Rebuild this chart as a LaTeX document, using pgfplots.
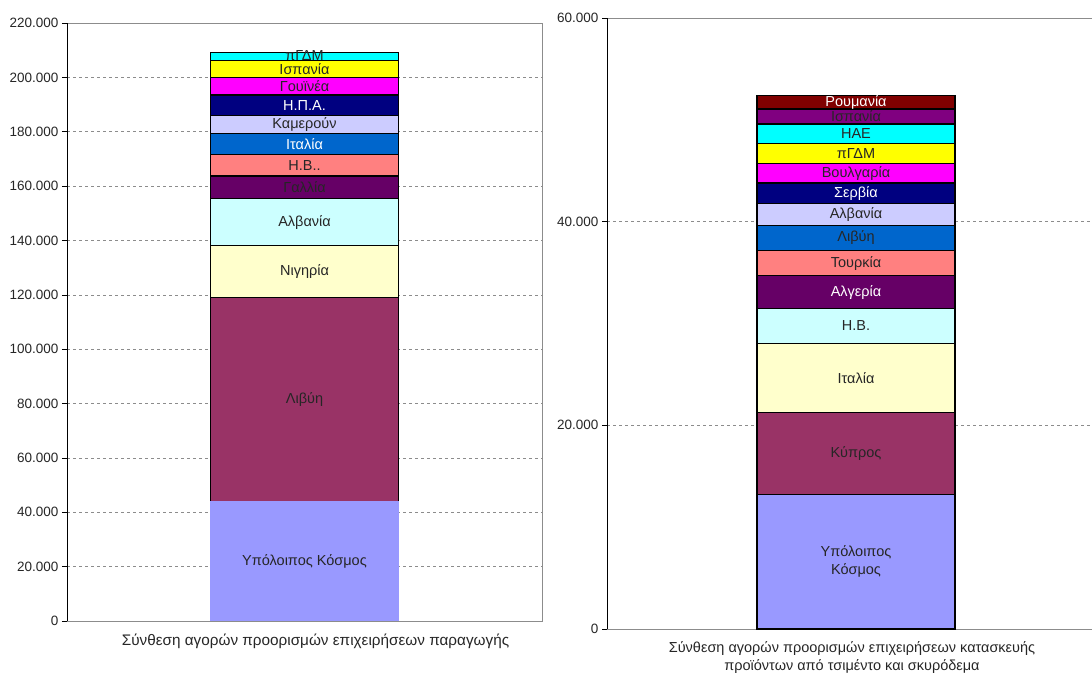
\documentclass[border=0pt]{standalone}
\usepackage{fontspec}
\setmainfont{Liberation Sans}
\usepackage{pgfplots}
\pgfplotsset{compat=1.18}
\definecolor{cRest}{HTML}{9999FF}
\definecolor{cPlum}{HTML}{993366}
\definecolor{cIvory}{HTML}{FFFFCC}
\definecolor{cLTurq}{HTML}{CCFFFF}
\definecolor{cDPurp}{HTML}{660066}
\definecolor{cCoral}{HTML}{FF8080}
\definecolor{cOcean}{HTML}{0066CC}
\definecolor{cIce}{HTML}{CCCCFF}
\definecolor{cNavy}{HTML}{000080}
\definecolor{cPink}{HTML}{FF00FF}
\definecolor{cYel}{HTML}{FFFF00}
\definecolor{cTurq}{HTML}{00FFFF}
\definecolor{cViol}{HTML}{800080}
\definecolor{cDRed}{HTML}{800000}
\definecolor{txt}{HTML}{262626}
\definecolor{frame}{HTML}{8C8C8C}
\pgfplotsset{
  myax/.style={
    scale only axis, anchor=south west,
    ybar stacked, bar shift=0pt,
    xmin=-0.5, xmax=0.5, xtick=\empty,
    ymin=0, ytick pos=left,
    ymajorgrids,
    grid style={draw=frame, dash pattern=on 3bp off 3bp, line width=0.6bp},
    axis line style={draw=frame, line width=0.8bp},
    tick align=outside, major tick length=5bp,
    y tick style={black, line width=0.6bp},
    scaled y ticks=false,
    yticklabel style={text=txt, font=\fontsize{13.5bp}{15bp}\selectfont},
    clip=false,
  },
  seg/.style={fill=#1, draw=black, line width=1.2bp},
}
\begin{document}
\begin{tikzpicture}[font=\fontsize{14.5bp}{18bp}\selectfont]
\useasboundingbox (0,0) rectangle (1092bp,673bp);
% ---------------- left chart ----------------
\begin{axis}[myax, at={(67bp,52bp)}, width=475bp, height=598bp,
  ymax=220000, ytick={0,20000,40000,60000,80000,100000,120000,140000,160000,180000,200000,220000},
  yticklabels={0,20.000,40.000,60.000,80.000,100.000,120.000,140.000,160.000,180.000,200.000,220.000},
  bar width=188bp]
\addplot[fill=cRest, draw=none] coordinates {(0,44000)};
\addplot[seg=cPlum]  coordinates {(0,75100)};
\addplot[seg=cIvory] coordinates {(0,18900)};
\addplot[seg=cLTurq] coordinates {(0,17300)};
\addplot[seg=cDPurp] coordinates {(0,8400)};
\addplot[seg=cCoral] coordinates {(0,8000)};
\addplot[seg=cOcean] coordinates {(0,7500)};
\addplot[seg=cIce]   coordinates {(0,6900)};
\addplot[seg=cNavy]  coordinates {(0,7400)};
\addplot[seg=cPink]  coordinates {(0,6400)};
\addplot[seg=cYel]   coordinates {(0,6200)};
\addplot[seg=cTurq]  coordinates {(0,3000)};
\coordinate (A0) at (rel axis cs:0,0);
\coordinate (A1) at (rel axis cs:0,1);
\coordinate (AX) at (rel axis cs:0.5,0);
\coordinate (a1) at (axis cs:0,22000);
\coordinate (a2) at (axis cs:0,81550);
\coordinate (a3) at (axis cs:0,128550);
\coordinate (a4) at (axis cs:0,146650);
\coordinate (a5) at (axis cs:0,159500);
\coordinate (a6) at (axis cs:0,167700);
\coordinate (a7) at (axis cs:0,175450);
\coordinate (a8) at (axis cs:0,182650);
\coordinate (a9) at (axis cs:0,189800);
\coordinate (a10) at (axis cs:0,196700);
\coordinate (a11) at (axis cs:0,203000);
\coordinate (a12) at (axis cs:0,208100);
\end{axis}
\draw[black, line width=0.8bp] (A0) -- (A1);
\node[text=txt] at (a1) {Υπόλοιπος Κόσμος};
\node[text=txt] at (a2) {Λιβύη};
\node[text=txt] at (a3) {Νιγηρία};
\node[text=txt] at (a4) {Αλβανία};
\node[text=txt] at (a5) {Γαλλία};
\node[text=txt] at (a6) {Η.Β..};
\node[text=white] at (a7) {Ιταλία};
\node[text=txt] at (a8) {Καμερούν};
\node[text=white] at (a9) {Η.Π.Α.};
\node[text=txt] at (a10) {Γουϊνέα};
\node[text=txt] at (a11) {Ισπανία};
\node[text=txt] at (a12) {πΓΔΜ};
\node[text=txt, font=\fontsize{15.3bp}{18bp}\selectfont] at ([yshift=-20bp, xshift=11bp]AX) {Σύνθεση αγορών προορισμών επιχειρήσεων παραγωγής};
% ---------------- right chart ----------------
\begin{axis}[myax, at={(607bp,44bp)}, width=498bp, height=611bp,
  ymax=60000, ytick={0,20000,40000,60000},
  yticklabels={0,20.000,40.000,60.000},
  bar width=198bp]
\addplot[seg=cRest]  coordinates {(0,13230)};
\addplot[seg=cPlum]  coordinates {(0,8020)};
\addplot[seg=cIvory] coordinates {(0,6820)};
\addplot[seg=cLTurq] coordinates {(0,3400)};
\addplot[seg=cDPurp] coordinates {(0,3210)};
\addplot[seg=cCoral] coordinates {(0,2490)};
\addplot[seg=cOcean] coordinates {(0,2470)};
\addplot[seg=cIce]   coordinates {(0,2150)};
\addplot[seg=cNavy]  coordinates {(0,2000)};
\addplot[seg=cPink]  coordinates {(0,1930)};
\addplot[seg=cYel]   coordinates {(0,1960)};
\addplot[seg=cTurq]  coordinates {(0,1910)};
\addplot[seg=cViol]  coordinates {(0,1470)};
\addplot[seg=cDRed]  coordinates {(0,1310)};
\coordinate (B0) at (rel axis cs:0,0);
\coordinate (B1) at (rel axis cs:0,1);
\coordinate (BX) at (rel axis cs:0.5,0);
\coordinate (b1) at (axis cs:0,6615);
\coordinate (b2) at (axis cs:0,17240);
\coordinate (b3) at (axis cs:0,24660);
\coordinate (b4) at (axis cs:0,29770);
\coordinate (b5) at (axis cs:0,33075);
\coordinate (b6) at (axis cs:0,35925);
\coordinate (b7) at (axis cs:0,38405);
\coordinate (b8) at (axis cs:0,40715);
\coordinate (b9) at (axis cs:0,42790);
\coordinate (b10) at (axis cs:0,44755);
\coordinate (b11) at (axis cs:0,46700);
\coordinate (b12) at (axis cs:0,48635);
\coordinate (b13) at (axis cs:0,50325);
\coordinate (b14) at (axis cs:0,51715);
\end{axis}
\draw[black, line width=0.8bp] (B0) -- (B1);
\node[text=txt, align=center] at (b1) {Υπόλοιπος\\Κόσμος};
\node[text=txt] at (b2) {Κύπρος};
\node[text=txt] at (b3) {Ιταλία};
\node[text=txt] at (b4) {Η.Β.};
\node[text=white] at (b5) {Αλγερία};
\node[text=txt] at (b6) {Τουρκία};
\node[text=txt] at (b7) {Λιβύη};
\node[text=txt] at (b8) {Αλβανία};
\node[text=white] at (b9) {Σερβία};
\node[text=txt] at (b10) {Βουλγαρία};
\node[text=txt] at (b11) {πΓΔΜ};
\node[text=txt] at (b12) {ΗΑΕ};
\node[text=txt] at (b13) {Ισπανία};
\node[text=white] at (b14) {Ρουμανία};
\node[text=txt, align=center] at ([yshift=-29bp, xshift=-4bp]BX) {Σύνθεση αγορών προορισμών επιχειρήσεων κατασκευής\\προϊόντων από τσιμέντο και σκυρόδεμα};
\end{tikzpicture}
\end{document}
